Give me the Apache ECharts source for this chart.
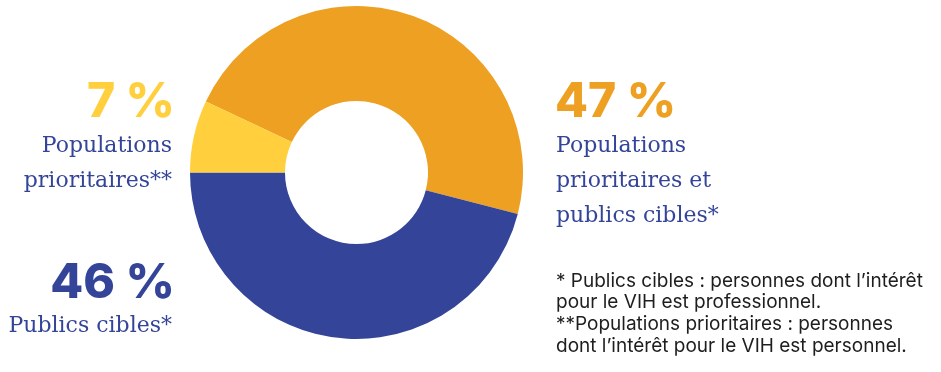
<!DOCTYPE html>
<html>
<head>
<meta charset="utf-8">
<script src="https://cdn.jsdelivr.net/npm/echarts@6/dist/echarts.min.js"></script>
<style>html,body{margin:0;padding:0;background:#fff}#c{width:941px;height:372px}</style>
</head>
<body>
<div id="c"></div>
<script>
const categories = ['Populations prioritaires et publics cibles*', 'Publics cibles*', 'Populations prioritaires**'];
const values = [47, 46, 7];
const labelLines = [
  ['Populations', 'prioritaires et', 'publics cibles*'],
  ['Publics cibles*'],
  ['Populations', 'prioritaires**']
];
const footnotes = [
  '* Publics cibles : personnes dont l\u2019intérêt',
  'pour le VIH est professionnel.',
  '**Populations prioritaires : personnes',
  'dont l\u2019intérêt pour le VIH est personnel.'
];

const colors = ['#EDA022', '#344599', '#FFCF3E'];
const textBlue = '#344599';
const serif = '"DejaVu Serif", serif';
const bold = 'Inter, "Noto Sans", sans-serif';

const chart = echarts.init(document.getElementById('c'), null, {renderer: 'canvas'});

function txt(text, x, y, opts) {
  return {
    type: 'text', x: 0, y: 0, silent: true,
    style: Object.assign({
      text: text, x: x, y: y,
      align: opts.align || 'left', verticalAlign: 'middle',
      textAlign: opts.align || 'left', textVerticalAlign: 'middle',
      fontSize: opts.size, fontFamily: opts.family, fontWeight: opts.weight || 'normal',
      fill: opts.fill
    })
  };
}

const blocks = [
  {i: 0, x: 556, px: 555, align: 'left', pctY: 103, lineY: 146, pctFill: colors[0]},
  {i: 1, x: 172, px: 175, align: 'right', pctY: 284, lineY: 326, pctFill: colors[1]},
  {i: 2, x: 172, px: 175, align: 'right', pctY: 103, lineY: 146, pctFill: colors[2]}
];
const lineStep = 35;

const elements = [];
blocks.forEach(b => {
  elements.push(txt(values[b.i] + ' %', b.px, b.pctY, {align: b.align, size: 48, family: bold, weight: 800, fill: b.pctFill}));
  labelLines[b.i].forEach((l, k) => {
    elements.push(txt(l, b.x, b.lineY + k * lineStep, {align: b.align, size: 22, family: serif, fill: textBlue}));
  });
});
footnotes.forEach((l, k) => {
  elements.push(txt(l, 556, 281 + k * 21.7, {align: 'left', size: 19, family: 'Inter, sans-serif', fill: '#1e1e1e'}));
});

chart.setOption({
  animation: false,
  backgroundColor: '#fff',
  series: [{
    type: 'pie',
    center: [356.5, 172.5],
    radius: [71.5, 166.5],
    startAngle: 180 - values[2] / 100 * 360,
    clockwise: true,
    silent: true,
    label: {show: false},
    labelLine: {show: false},
    itemStyle: {borderWidth: 0},
    data: categories.map((c, i) => ({name: c, value: values[i], itemStyle: {color: colors[i]}}))
  }],
  graphic: {elements: elements}
});
</script>
</body>
</html>
